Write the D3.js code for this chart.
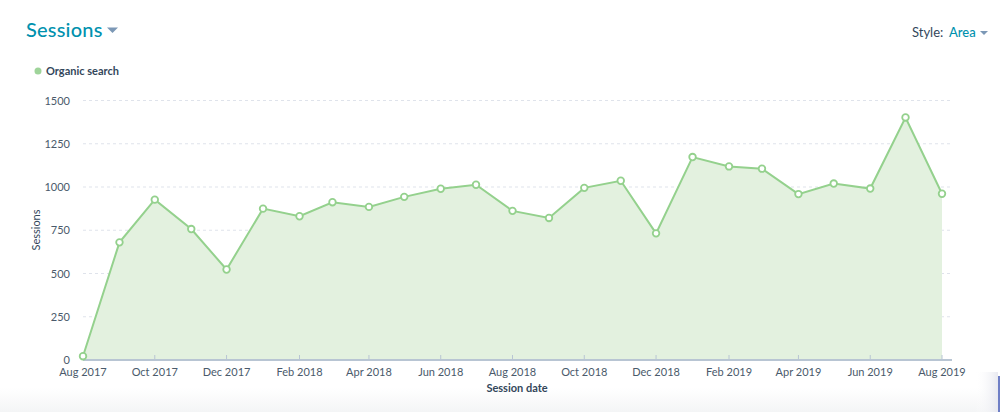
<!DOCTYPE html>
<html><head><meta charset="utf-8">
<script src="https://cdn.jsdelivr.net/npm/d3@7"></script>
<style>
body{margin:0;background:#fff;font-family:Lato,"Open Sans",sans-serif;}
svg{display:block}
</style></head><body>
<svg id="c" width="1000" height="412"></svg>
<script>
const months = ["2017-08","2017-09","2017-10","2017-11","2017-12","2018-01","2018-02","2018-03","2018-04","2018-05","2018-06","2018-07","2018-08","2018-09","2018-10","2018-11","2018-12","2019-01","2019-02","2019-03","2019-04","2019-05","2019-06","2019-07","2019-08"];
const sessions = [22,680,927,757,523,875,831,912,885,943,990,1013,862,821,995,1036,732,1173,1119,1106,959,1020,991,1402,961];
const yTicks = [0,250,500,750,1000,1250,1500];
const xTickLabels = ["Aug 2017","Oct 2017","Dec 2017","Feb 2018","Apr 2018","Jun 2018","Aug 2018","Oct 2018","Dec 2018","Feb 2019","Apr 2019","Jun 2019","Aug 2019"];

const parse = d3.timeParse("%Y-%m");
const data = months.map((m,i)=>({date:parse(m), v:sessions[i]}));
const svg = d3.select("#c");

const defs = svg.append("defs");
const g1 = defs.append("linearGradient").attr("id","band").attr("x1",0).attr("y1",0).attr("x2",0).attr("y2",1);
g1.append("stop").attr("offset","0").attr("stop-color","#ffffff");
g1.append("stop").attr("offset","1").attr("stop-color","#f4f5f6");
const g2 = defs.append("linearGradient").attr("id","shadow").attr("x1",0).attr("y1",0).attr("x2",1).attr("y2",0);
g2.append("stop").attr("offset","0").attr("stop-color","#ffffff").attr("stop-opacity",0);
g2.append("stop").attr("offset","1").attr("stop-color","#e8e9f0");

// bottom band
svg.append("rect").attr("x",0).attr("y",388).attr("width",1000).attr("height",24).attr("fill","url(#band)");
svg.append("rect").attr("x",975).attr("y",372).attr("width",23).attr("height",40).attr("fill","url(#shadow)");
svg.append("rect").attr("x",998).attr("y",376).attr("width",2).attr("height",36).attr("fill","#6f7fc6");

const x = d3.scaleTime().domain([data[0].date, data[data.length-1].date]).range([83,942]);
const y = d3.scaleLinear().domain([0,1500]).range([360,100.5]);

// grid
svg.append("g").selectAll("line").data(yTicks.filter(d=>d>0)).join("line")
  .attr("x1",83).attr("x2",952).attr("y1",d=>y(d)).attr("y2",d=>y(d))
  .attr("stroke","#dfe3eb").attr("stroke-dasharray","3,3").attr("stroke-width",1);

// y labels
svg.append("g").selectAll("text").data(yTicks).join("text")
  .attr("x",70).attr("y",d=>y(d)+4).attr("text-anchor","end")
  .attr("font-size",11).attr("fill","#4a5a6b").text(d=>d);

svg.append("text").attr("transform","translate(40,230) rotate(-90)")
  .attr("text-anchor","middle").attr("font-size",11).attr("fill","#33475b").text("Sessions");

// area
const area = d3.area().x(d=>x(d.date)).y0(y(0)).y1(d=>y(d.v));
svg.append("path").datum(data).attr("d",area).attr("fill","#e3f1df");
const line = d3.line().x(d=>x(d.date)).y(d=>y(d.v));
svg.append("path").datum(data).attr("d",line).attr("fill","none").attr("stroke","#94d18d").attr("stroke-width",2);

// x axis
const tickDates = xTickLabels.map(s=>d3.timeParse("%b %Y")(s));
svg.append("line").attr("x1",83).attr("x2",952).attr("y1",360).attr("y2",360)
  .attr("stroke","#b8c5d3").attr("stroke-width",2);
svg.append("g").selectAll("line").data(tickDates).join("line")
  .attr("x1",d=>x(d)).attr("x2",d=>x(d)).attr("y1",359).attr("y2",355)
  .attr("stroke","#b8c5d3").attr("stroke-width",1);
svg.append("g").selectAll("text").data(tickDates).join("text")
  .attr("x",d=>x(d)).attr("y",376).attr("text-anchor","middle")
  .attr("font-size",11).attr("fill","#4a5a6b").text((d,i)=>xTickLabels[i]);
svg.append("text").attr("x",517).attr("y",392).attr("text-anchor","middle")
  .attr("font-size",11).attr("font-weight","bold").attr("fill","#33475b").text("Session date");

// points
svg.append("g").selectAll("circle").data(data).join("circle")
  .attr("cx",d=>x(d.date)).attr("cy",d=>y(d.v)).attr("r",3.3)
  .attr("fill","#fff").attr("stroke","#94d18d").attr("stroke-width",1.8);

// title
svg.append("text").attr("x",26).attr("y",37).attr("font-size",20).attr("fill","#0091ae")
  .attr("font-weight",500).attr("letter-spacing",0.2).text("Sessions");
svg.append("path").attr("d","M107,27.5 L118,27.5 L112.5,33 Z").attr("fill","#7c98b6");

// legend
svg.append("circle").attr("cx",38).attr("cy",71).attr("r",3.5).attr("fill","#9fd49a");
svg.append("text").attr("x",46).attr("y",75).attr("font-size",11).attr("font-weight","bold")
  .attr("fill","#33475b").text("Organic search");

// style selector
svg.append("text").attr("x",912).attr("y",37).attr("font-size",13).attr("fill","#33475b").text("Style:");
svg.append("text").attr("x",949).attr("y",37).attr("font-size",13).attr("fill","#0091ae").attr("font-weight",500).text("Area");
svg.append("path").attr("d","M980,31 L988,31 L984,35 Z").attr("fill","#7c98b6");
</script>
</body></html>
